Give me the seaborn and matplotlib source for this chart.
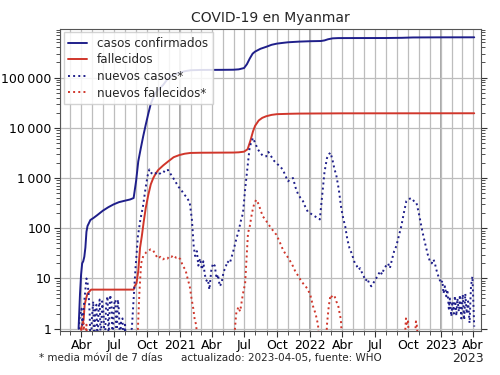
import numpy as np
import pandas as pd
import seaborn as sns
import matplotlib
matplotlib.use("Agg")
import matplotlib.pyplot as plt
import matplotlib.dates as mdates
import matplotlib.ticker as mticker

# cumulative confirmed cases
conf_dates = ["2020-03-24", "2020-03-28", "2020-03-31", "2020-04-03", "2020-04-06", "2020-04-09",
              "2020-04-12", "2020-04-15", "2020-04-18", "2020-04-22", "2020-04-26", "2020-05-05",
              "2020-05-15", "2020-05-31", "2020-06-15", "2020-06-30", "2020-07-15", "2020-07-31",
              "2020-08-15", "2020-08-25", "2020-09-01", "2020-09-07", "2020-09-14", "2020-09-21",
              "2020-09-28", "2020-10-05", "2020-10-12", "2020-10-19", "2020-10-26", "2020-11-02",
              "2020-11-09", "2020-11-16", "2020-11-23", "2020-11-30", "2020-12-07", "2020-12-14",
              "2020-12-21", "2020-12-31", "2021-01-15", "2021-01-31", "2021-02-28", "2021-04-30",
              "2021-05-31", "2021-06-15", "2021-06-30", "2021-07-08", "2021-07-16", "2021-07-24",
              "2021-07-31", "2021-08-15", "2021-08-31", "2021-09-15", "2021-09-30", "2021-10-15",
              "2021-10-31", "2021-11-30", "2021-12-31", "2022-01-31", "2022-02-10", "2022-02-20",
              "2022-03-05", "2022-03-20", "2022-04-30", "2022-07-31", "2022-09-15", "2022-10-15",
              "2022-12-31", "2023-04-05"]
conf_vals = [1, 5, 12, 20, 22, 27, 41, 85, 111, 127, 146, 161, 182, 224, 262, 299, 331, 353,
             374, 400, 880, 2150, 3900, 6900, 11600, 19000, 30000, 40000, 50000, 57000,
             64000, 72000, 84000, 96000, 105000, 113000, 119000, 125000, 134000, 140000,
             142000, 142800, 143500, 146000, 155000, 185000, 240000, 300000, 330000, 375000,
             410000, 450000, 475000, 490000, 505000, 520000, 530000, 535000, 550000, 580000,
             605000, 612000, 613000, 614000, 620000, 630000, 633500, 634500]

# cumulative deaths
death_dates = ["2020-03-31", "2020-04-07", "2020-04-10", "2020-04-14", "2020-04-18", "2020-04-28",
               "2020-08-25", "2020-08-28", "2020-09-02", "2020-09-07", "2020-09-12", "2020-09-17",
               "2020-09-22", "2020-09-28", "2020-10-05", "2020-10-12", "2020-10-19", "2020-10-26",
               "2020-11-02", "2020-11-16", "2020-11-30", "2020-12-15", "2020-12-31", "2021-01-15",
               "2021-01-31", "2021-02-28", "2021-05-31", "2021-06-15", "2021-06-30", "2021-07-10",
               "2021-07-18", "2021-07-25", "2021-07-31", "2021-08-10", "2021-08-20", "2021-08-31",
               "2021-09-15", "2021-09-30", "2021-10-31", "2021-11-30", "2021-12-31", "2022-03-31",
               "2023-04-05"]
death_vals = [1, 1.5, 3, 4, 5, 6, 6, 7, 8, 14, 41, 70, 131, 255, 459, 748, 1000, 1235, 1450,
              1790, 2150, 2600, 2870, 3050, 3160, 3190, 3217, 3250, 3350, 3750, 5600, 8500,
              11000, 14000, 15800, 17000, 18100, 18700, 19000, 19200, 19270, 19430, 19490]

# new cases, 7-day mean
new_dates = [
    "2020-03-23", "2020-03-26", "2020-03-29", "2020-04-01", "2020-04-04", "2020-04-08",
    "2020-04-12", "2020-04-15", "2020-04-18", "2020-04-21", "2020-04-24", "2020-04-27",
    "2020-04-30", "2020-05-04", "2020-05-07", "2020-05-10", "2020-05-13", "2020-05-16",
    "2020-05-19", "2020-05-22", "2020-05-25", "2020-05-29", "2020-06-02", "2020-06-05",
    "2020-06-09", "2020-06-13", "2020-06-16", "2020-06-20", "2020-06-24", "2020-06-27",
    "2020-07-01", "2020-07-05", "2020-07-08", "2020-07-12", "2020-07-15", "2020-07-18",
    "2020-07-21", "2020-07-25", "2020-07-28", "2020-08-01", "2020-08-05", "2020-08-10",
    "2020-08-16", "2020-08-20", "2020-08-25", "2020-08-30", "2020-09-06", "2020-09-13",
    "2020-09-20", "2020-09-27", "2020-10-03", "2020-10-08", "2020-10-14", "2020-10-20",
    "2020-10-26", "2020-11-01", "2020-11-08", "2020-11-15", "2020-11-22", "2020-11-29",
    "2020-12-05", "2020-12-12", "2020-12-22", "2020-12-30", "2021-01-05", "2021-01-12",
    "2021-01-20", "2021-01-29", "2021-02-04", "2021-02-09", "2021-02-13", "2021-02-18",
    "2021-02-22", "2021-02-27", "2021-03-04", "2021-03-08", "2021-03-12", "2021-03-17",
    "2021-03-21", "2021-03-25", "2021-03-30", "2021-04-04", "2021-04-09", "2021-04-14",
    "2021-04-18", "2021-04-23", "2021-04-28", "2021-05-04", "2021-05-09", "2021-05-14",
    "2021-05-21", "2021-05-27", "2021-06-02", "2021-06-08", "2021-06-15", "2021-06-21",
    "2021-06-27", "2021-07-03", "2021-07-09", "2021-07-16", "2021-07-21", "2021-07-25",
    "2021-07-31", "2021-08-07", "2021-08-14", "2021-08-21", "2021-08-31", "2021-09-06",
    "2021-09-14", "2021-09-22", "2021-10-01", "2021-10-09", "2021-10-17", "2021-10-24",
    "2021-10-31", "2021-11-07", "2021-11-14", "2021-11-21", "2021-11-28", "2021-12-05",
    "2021-12-12", "2021-12-19", "2021-12-26", "2022-01-03", "2022-01-10", "2022-01-16",
    "2022-01-22", "2022-01-28", "2022-02-03", "2022-02-10", "2022-02-17", "2022-02-23",
    "2022-02-27", "2022-03-05", "2022-03-10", "2022-03-15", "2022-03-22", "2022-03-29",
    "2022-04-04", "2022-04-09", "2022-04-15", "2022-04-21", "2022-04-26", "2022-05-01",
    "2022-05-06", "2022-05-11", "2022-05-16", "2022-05-21", "2022-05-26", "2022-05-31",
    "2022-06-05", "2022-06-10", "2022-06-15", "2022-06-21", "2022-06-26", "2022-07-01",
    "2022-07-06", "2022-07-11", "2022-07-16", "2022-07-21", "2022-07-27", "2022-08-02",
    "2022-08-07", "2022-08-12", "2022-08-18", "2022-08-24", "2022-08-30", "2022-09-06",
    "2022-09-13", "2022-09-20", "2022-09-27", "2022-10-04", "2022-10-11", "2022-10-18",
    "2022-10-25", "2022-11-01", "2022-11-08", "2022-11-14", "2022-11-20", "2022-11-26",
    "2022-12-02", "2022-12-07", "2022-12-12", "2022-12-16", "2022-12-20", "2022-12-24",
    "2022-12-28", "2023-01-02", "2023-01-06", "2023-01-09", "2023-01-13", "2023-01-17",
    "2023-01-20", "2023-01-24", "2023-01-27", "2023-01-31", "2023-02-03", "2023-02-07",
    "2023-02-10", "2023-02-14", "2023-02-17", "2023-02-21", "2023-02-24", "2023-02-28",
    "2023-03-04", "2023-03-08", "2023-03-11", "2023-03-15", "2023-03-19", "2023-03-23",
    "2023-03-27", "2023-03-31", "2023-04-05"]
new_vals = [
    0.3, 1.5, 2.0, 2.5, 1.2, 3.0,
    6.0, 10.0, 8.5, 5.0, 2.0, 0.3,
    1.5, 3.5, 0.5, 2.5, 3.0, 0.4,
    2.6, 3.8, 0.5, 3.5, 2.0, 0.4,
    3.0, 4.4, 0.6, 4.7, 3.5, 0.5,
    3.0, 3.8, 0.6, 3.8, 2.2, 0.5,
    1.5, 1.6, 0.3, 1.2, 0.3, 0.6,
    0.9, 1.0, 4, 15, 69, 150,
    270, 600, 1100, 1480, 1250, 1180,
    1250, 1150, 1250, 1380, 1300, 1450,
    1250, 1050, 800, 650, 590, 480,
    420, 325, 150, 45, 28, 35,
    18, 25, 15, 22, 12, 9,
    9.5, 6, 14, 20, 18, 10,
    12, 7, 8, 14, 16, 22,
    20, 28, 40, 60, 90, 140,
    200, 600, 1500, 4300, 5200, 6300,
    5000, 3800, 3200, 2800, 2700, 3300,
    2700, 2200, 1900, 1700, 1450, 1100,
    860, 950, 1000, 650, 480, 400,
    345, 260, 210, 195, 180, 170,
    160, 150, 400, 1300, 2500, 3000,
    3200, 2200, 1500, 1150, 600, 250,
    150, 110, 60, 40, 33, 26,
    20, 18, 15, 16, 13, 11,
    9, 10, 8, 7, 8, 9,
    10.4, 12, 14, 12, 16, 18,
    20, 16, 24, 35, 44, 70,
    110, 200, 345, 380, 400, 350,
    330, 200, 110, 69, 45, 30,
    22, 20, 24, 20, 15, 12,
    10, 8, 9, 5, 7, 4.4,
    6, 2.5, 4, 1.75, 3.5, 2,
    4.5, 1.8, 4, 2.2, 4.7, 1.6,
    4.8, 1.5, 5, 2, 3.5, 1.3,
    7, 11, 1.1]

# new deaths, 7-day mean
nd_dates = ["2020-03-27", "2020-03-31", "2020-04-03", "2020-04-07", "2020-04-11", "2020-04-15",
            "2020-04-19", "2020-05-01", "2020-08-25", "2020-09-01", "2020-09-06", "2020-09-10",
            "2020-09-15", "2020-09-21", "2020-09-29", "2020-10-05", "2020-10-11", "2020-10-18",
            "2020-10-25", "2020-11-01", "2020-11-08", "2020-11-15", "2020-11-22", "2020-11-28",
            "2020-12-03", "2020-12-09", "2020-12-15", "2020-12-21", "2020-12-27", "2021-01-03",
            "2021-01-10", "2021-01-17", "2021-01-23", "2021-01-29", "2021-02-03", "2021-02-08",
            "2021-02-12", "2021-02-16", "2021-02-21", "2021-02-26", "2021-05-25", "2021-06-02",
            "2021-06-08", "2021-06-14", "2021-06-19", "2021-06-27", "2021-07-03", "2021-07-11",
            "2021-07-16", "2021-07-22", "2021-07-28", "2021-08-03", "2021-08-10", "2021-08-16",
            "2021-08-22", "2021-08-29", "2021-09-04", "2021-09-10", "2021-09-19", "2021-09-28",
            "2021-10-07", "2021-10-17", "2021-10-25", "2021-11-02", "2021-11-14", "2021-11-22",
            "2021-11-30", "2021-12-06", "2021-12-12", "2021-12-19", "2021-12-26", "2022-01-02",
            "2022-01-09", "2022-01-16", "2022-01-23", "2022-01-28", "2022-02-06", "2022-02-12",
            "2022-02-17", "2022-02-22", "2022-02-27", "2022-03-04", "2022-03-10", "2022-03-15",
            "2022-03-20", "2022-03-24", "2022-03-28", "2022-04-02", "2022-04-15", "2022-09-15",
            "2022-09-22", "2022-09-26", "2022-09-29", "2022-10-02", "2022-10-05", "2022-10-12",
            "2022-10-20", "2022-10-24", "2022-10-27", "2022-11-01", "2022-11-10", "2023-04-05"]
nd_vals = [0.1, 1.1, 0.3, 1.3, 0.5, 1.2, 0.2, 0.1, 0.1, 0.2, 1.0, 5, 20, 28, 33, 35, 38, 37,
           30, 25, 27, 24, 26, 25, 28, 27, 29, 26, 27, 24, 17.5, 15, 10, 7, 4, 2.5, 1.5, 1.2,
           0.4, 0.1, 0.1, 0.6, 2, 2.7, 2.2, 5, 8, 80, 110, 200, 300, 370, 300, 220, 170, 150,
           125, 110, 90, 75, 55, 37, 30, 25, 17.5, 13, 11, 9, 8, 7, 6, 4.5, 2.8, 2, 1.2, 0.3,
           0.1, 0.2, 1.2, 2.8, 4.7, 4.2, 4.5, 3.5, 3.0, 2.1, 1.5, 0.3, 0.1, 0.1, 0.5, 1.6,
           1.2, 1.4, 0.4, 0.3, 0.5, 1.4, 1.1, 0.3, 0.1, 0.1]

title = "COVID-19 en Myanmar"
labels = ["casos confirmados", "fallecidos", "nuevos casos*", "nuevos fallecidos*"]
blue = "#1f1f8a"
red = "#d0362b"

sns.set_style("ticks")
plt.rcParams["font.family"] = ["DejaVu Sans"]

fig = plt.figure(figsize=(5, 3.75), dpi=100)
ax = fig.add_axes([0.12, 0.118, 0.842, 0.806])

sns.lineplot(x=pd.to_datetime(conf_dates), y=conf_vals, ax=ax, color=blue, lw=1.4, label=labels[0])
sns.lineplot(x=pd.to_datetime(death_dates), y=death_vals, ax=ax, color=red, lw=1.4, label=labels[1])
sns.lineplot(x=pd.to_datetime(new_dates), y=new_vals, ax=ax, color=blue, lw=1.4, ls=":", label=labels[2])
sns.lineplot(x=pd.to_datetime(nd_dates), y=nd_vals, ax=ax, color=red, lw=1.4, ls=":", label=labels[3])

ax.set_yscale("log")
ax.set_ylim(0.91, 9.5e5)
ax.set_xlim(pd.Timestamp("2020-02-01"), pd.Timestamp("2023-04-24"))

# y ticks with thin space as thousands separator
ax.yaxis.set_major_locator(mticker.LogLocator(base=10))
ax.yaxis.set_major_formatter(mticker.FuncFormatter(lambda v, p: f"{int(round(v)):,}".replace(",", "\u2009")))
ax.yaxis.set_minor_locator(mticker.LogLocator(base=10, subs=np.arange(2, 10)))
ax.yaxis.set_minor_formatter(mticker.NullFormatter())

# x ticks: quarters labelled, months as minor
quarter_names = {4: "Abr", 7: "Jul", 10: "Oct"}
def month_label(v, p):
    d = mdates.num2date(v)
    return str(d.year) if d.month == 1 else quarter_names.get(d.month, "")
ax.xaxis.set_major_locator(mdates.MonthLocator(bymonth=[1, 4, 7, 10]))
ax.xaxis.set_major_formatter(mticker.FuncFormatter(month_label))
ax.xaxis.set_minor_locator(mdates.MonthLocator())

ax.tick_params(which="both", direction="out", right=True, labelsize=9, colors="#333333",
               labelcolor="black", pad=2)
ax.tick_params(which="major", length=4)
ax.tick_params(which="minor", length=3)

ax.grid(True, which="major", axis="y", color="#bdbdbd", lw=0.9)
ax.grid(True, which="both", axis="x", color="#bdbdbd", lw=0.9)
for yr in ["2021-01-01", "2022-01-01", "2023-01-01"]:
    ax.axvline(pd.Timestamp(yr), color="#a0a0a0", lw=1.3, zorder=0.5)
for s in ax.spines.values():
    s.set_color("#555555")

ax.set_xlabel(None)
ax.set_ylabel(None)
ax.set_title(title, fontsize=10, pad=5)
ax.legend(loc="upper left", fontsize=8.6, framealpha=0.85, edgecolor="#cccccc",
          handlelength=1.6, borderpad=0.4, labelspacing=0.3, fancybox=False,
          borderaxespad=0.3)

fig.text(0.935, 0.043, "2023", fontsize=9, ha="center", va="center")
fig.text(0.078, 0.045, "* media móvil de 7 días", fontsize=7.5, va="center")
fig.text(0.362, 0.045, "actualizado: 2023-04-05, fuente: WHO", fontsize=7.5, va="center")

fig.savefig("out.png", dpi=100)
